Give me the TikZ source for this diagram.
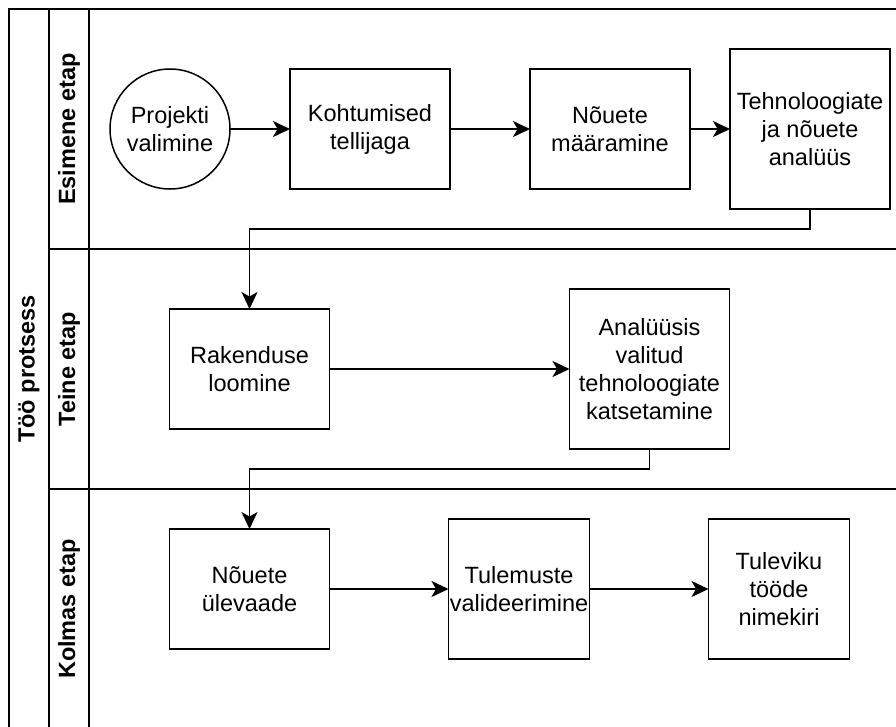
\documentclass[tikz,border=0pt]{standalone}
\usepackage{fontspec}
\setmainfont{Liberation Sans}
\usetikzlibrary{arrows.meta,positioning}
\tikzset{
  task/.style={draw, line width=1.5pt, fill=white, minimum width=160pt,
               minimum height=120pt, inner sep=0pt, outer sep=0pt, align=center},
  startev/.style={draw, circle, line width=1.5pt, fill=white, minimum size=120pt,
                  inner sep=0pt, outer sep=0pt, align=center},
  lane/.style={line width=1.5pt},
  lanelbl/.style={rotate=90, font=\fontsize{23.5}{28}\selectfont\bfseries},
  flow/.style={-{Stealth[length=17pt, width=16pt, inset=4.5pt]}, line width=1.5pt},
}

\begin{document}
\begin{tikzpicture}[x=1pt, y=-1pt, font=\fontsize{23.5}{28}\selectfont]
\useasboundingbox (0,0) rectangle (896,726);
\clip (0,0) rectangle (896,726);

\draw[lane] (9,9) rectangle (905,729);
\draw[lane] (49,9) -- (49,729);
\draw[lane] (89,9) -- (89,729);
\draw[lane] (49,249) -- (905,249);
\draw[lane] (49,489) -- (905,489);
\node[lanelbl] (pool) at (29,369) {Töö protsess};
\node[lanelbl] (lane1) at (69,129) {Esimene etap};
\node[lanelbl] (lane2) at (69,369) {Teine etap};
\node[lanelbl] (lane3) at (69,609) {Kolmas etap};

\node[startev] (proj) at (170,129) {Projekti\\valimine};
\node[task, right=60pt of proj] (kohtu) {Kohtumised\\tellijaga};
\node[task, right=80pt of kohtu] (maar) {Nõuete\\määramine};
\node[task, right=40pt of maar, minimum height=160pt] (tehno) {Tehnoloogiate\\ja nõuete\\analüüs};

\node[task] (rak) at (249.5,369) {Rakenduse\\loomine};
\node[task, right=240pt of rak, minimum height=160pt] (anal) {Analüüsis\\valitud\\tehnoloogiate\\katsetamine};

\node[task] (ulev) at (249.5,589) {Nõuete\\ülevaade};
\node[task, right=119pt of ulev, minimum width=141pt, minimum height=140pt] (valid) {Tulemuste\\valideerimine};
\node[task, right=119pt of valid, minimum width=141pt, minimum height=140pt] (tulev) {Tuleviku\\tööde\\nimekiri};

\draw[flow] (proj) -- (kohtu);
\draw[flow] (kohtu) -- (maar);
\draw[flow] (maar) -- (tehno);
\draw[flow] (tehno.south) -- ++(0,20) -| (rak.north);
\draw[flow] (rak) -- (anal);
\draw[flow] (anal.south) -- ++(0,20) -| (ulev.north);
\draw[flow] (ulev) -- (valid);
\draw[flow] (valid) -- (tulev);
\end{tikzpicture}
\end{document}
